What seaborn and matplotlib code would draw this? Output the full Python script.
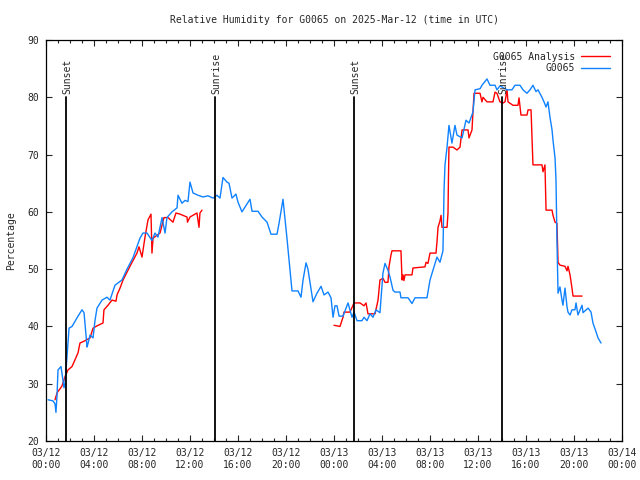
import numpy as np
import pandas as pd
import seaborn as sns
import matplotlib
matplotlib.use("Agg")
import matplotlib.pyplot as plt
from matplotlib.lines import Line2D

# hours since 2025-03-12 00:00 UTC
obs_hours = [0.17, 0.58, 0.75, 0.83, 0.92, 1.0, 1.25, 1.5, 1.58, 1.75, 1.92, 2.17, 2.67, 3.0, 3.17,
             3.42, 3.5, 3.67, 3.92, 4.08, 4.25, 4.67, 5.08, 5.33, 5.75, 6.33, 6.75, 7.25, 7.83, 8.08,
             8.42, 8.83, 9.08, 9.33, 9.67, 9.92, 10.08, 10.5, 10.92, 11.0, 11.33, 11.58, 11.83, 12.0,
             12.25, 12.67, 13.08, 13.5, 13.92, 14.25, 14.5, 14.75, 15.08, 15.25, 15.5, 15.83, 16.0,
             16.33, 17.0, 17.17, 17.67, 18.0, 18.42, 18.75, 19.25, 19.42, 19.75, 20.08, 20.5, 21.0,
             21.25, 21.42, 21.67, 21.83, 22.25, 22.58, 22.92, 23.17, 23.5, 23.75, 23.92, 24.08, 24.25,
             24.42, 24.75, 25.17, 25.5, 25.67, 25.92, 26.33, 26.5, 26.75, 27.0, 27.25, 27.5, 27.83,
             28.08, 28.25, 28.5, 28.67, 28.92, 29.08, 29.5, 29.58, 30.17, 30.5, 30.75, 31.75, 32.0,
             32.25, 32.58, 32.83, 33.08, 33.17, 33.25, 33.42, 33.58, 33.83, 34.08, 34.25, 34.67, 35.0,
             35.25, 35.58, 35.75, 36.17, 36.33, 36.75, 37.0, 37.42, 37.58, 37.83, 38.42, 38.83, 39.08,
             39.5, 39.75, 40.08, 40.33, 40.58, 40.83, 41.0, 41.33, 41.5, 41.67, 41.83, 42.0, 42.17,
             42.25, 42.42, 42.5, 42.58, 42.67, 42.83, 43.0, 43.08, 43.25, 43.42, 43.5, 43.67, 43.83,
             44.08, 44.17, 44.33, 44.67, 44.75, 45.17, 45.42, 45.58, 45.83, 46.0, 46.25]
obs_rh = [27.2, 27.0, 26.5, 25.0, 28.0, 32.4, 33.0, 29.3, 30.0, 34.7, 39.7, 40.0, 41.8, 42.9, 42.4,
          36.4, 37.0, 38.5, 38.0, 41.0, 43.2, 44.6, 45.1, 44.6, 47.2, 48.1, 50.0, 52.0, 55.4, 56.3,
          56.3, 55.0, 56.3, 55.6, 59.0, 56.3, 59.0, 60.0, 60.7, 62.9, 61.5, 62.0, 61.8, 65.2,
          63.3, 62.9, 62.6, 62.8, 62.4, 62.9, 62.4, 66.0, 65.2, 65.0, 62.4, 63.1, 61.7,
          60.0, 62.2, 60.1, 60.1, 59.1, 58.2, 56.1, 56.1, 58.0, 62.2, 55.4, 46.2, 46.2,
          45.1, 48.1, 51.1, 50.0, 44.3, 45.8, 47.0, 45.5, 46.0, 45.0, 41.6, 43.6, 43.6,
          41.8, 41.8, 44.1, 41.6, 42.5, 41.0, 41.0, 41.6, 41.0, 42.2, 41.6, 42.9, 42.4,
          49.3, 51.0, 49.8, 48.6, 46.3, 46.0, 46.0, 45.0, 45.0, 44.0, 45.0, 45.0, 48.1,
          49.8, 52.1, 51.2, 53.2, 63.8, 68.2, 71.3, 75.1, 72.0, 75.1, 73.4, 72.9, 76.0,
          75.5, 77.4, 81.3, 81.5, 82.1, 83.2, 82.1, 82.1, 81.3, 82.0, 81.3, 81.3, 82.1,
          82.1, 81.3, 80.7, 81.3, 82.1, 81.0, 81.3, 80.0, 79.2, 78.3, 79.2, 76.5, 74.3,
          72.5, 69.4, 65.5, 55.0, 45.8, 46.9, 44.6, 43.7, 46.7, 43.4, 42.5, 42.0, 42.9,
          42.9, 44.1, 42.0, 43.7, 42.4, 43.2, 42.5, 40.6, 39.1, 38.0, 37.1]

ana_hours_1 = [0.75, 0.92, 1.33, 1.58, 1.83, 2.17, 2.67, 2.83, 3.25, 3.67, 3.92, 4.25, 4.75, 4.83,
               5.17, 5.5, 5.83, 5.92, 6.17, 6.42, 7.0, 7.58, 7.75, 8.0, 8.25, 8.5, 8.75, 8.83, 8.92,
               9.5, 9.83, 10.17, 10.58, 10.83, 11.17, 11.75, 11.79, 12.0, 12.58, 12.75, 12.83, 13.0]
ana_rh_1 = [27.2, 28.4, 29.6, 31.2, 32.4, 33.0, 35.4, 37.1, 37.5, 38.0, 39.7, 40.1, 40.6, 42.9,
            43.7, 44.6, 44.4, 45.5, 46.7, 48.1, 50.5, 52.8, 53.9, 52.1, 55.6, 58.6, 59.6, 52.8, 55.4,
            56.3, 59.0, 59.0, 58.2, 59.8, 59.6, 59.1, 58.2, 59.1, 59.8, 57.3, 59.8, 60.3]
ana_hours_2 = [24.0, 24.5, 24.75, 24.83, 25.33, 25.67, 26.17, 26.5, 26.67, 26.83, 27.42, 27.67, 27.83,
               28.08, 28.25, 28.5, 28.58, 28.75, 28.83, 29.58, 29.67, 29.75, 29.83, 29.92, 30.5,
               30.58, 31.58, 31.67, 31.83, 32.0, 32.5, 32.58, 32.67, 32.83, 32.92, 33.0, 33.42,
               33.5, 33.54, 33.58, 33.92, 34.25, 34.5, 34.67, 35.17, 35.25, 35.5, 35.58, 35.67,
               36.17, 36.33, 36.42, 36.75, 37.25, 37.42, 37.58, 37.83, 38.08, 38.25, 38.42, 38.5,
               38.92, 39.33, 39.42, 39.58, 40.08, 40.17, 40.42, 40.58, 41.33, 41.42, 41.58, 41.67,
               42.17, 42.25, 42.42, 42.58, 42.67, 42.83, 43.25, 43.42, 43.5, 43.67, 43.83, 43.92, 44.67]
ana_rh_2 = [40.2, 40.0, 41.6, 42.5, 42.5, 44.1, 44.1, 43.6, 44.1, 42.2, 42.2, 44.6, 48.1,
            48.4, 47.7, 47.7, 50.4, 52.5, 53.2, 53.2, 48.1, 49.0, 48.0, 49.0, 49.0,
            50.2, 50.4, 51.2, 51.0, 52.8, 52.8, 54.7, 57.3, 58.4, 59.4, 57.3, 57.3,
            59.8, 66.1, 71.3, 71.3, 70.8, 71.3, 74.3, 74.3, 72.9, 74.3, 77.4, 80.7,
            80.7, 79.2, 80.0, 79.2, 79.2, 80.9, 80.7, 79.2, 79.0, 79.2, 81.3, 79.2,
            78.6, 78.6, 79.9, 76.9, 76.9, 77.8, 77.8, 68.2, 68.2, 67.0, 68.2, 60.3,
            60.3, 59.4, 58.2, 58.0, 51.2, 50.7, 50.5, 49.7, 50.5, 49.0, 46.7, 45.3, 45.3]

sun_hours = [1.67, 14.08, 25.67, 38.0]
sun_labels = ["Sunset", "Sunrise", "Sunset", "Sunrise"]
tick_labels = ["03/12\n00:00", "03/12\n04:00", "03/12\n08:00", "03/12\n12:00", "03/12\n16:00",
               "03/12\n20:00", "03/13\n00:00", "03/13\n04:00", "03/13\n08:00", "03/13\n12:00",
               "03/13\n16:00", "03/13\n20:00", "03/14\n00:00"]

sns.set_style("ticks")
plt.rcParams["font.family"] = ["DejaVu Sans Mono"]
plt.rcParams["font.size"] = 7

RED = "#ff0000"
BLUE = "#0f82ff"

fig = plt.figure(figsize=(6.4, 4.8), dpi=100)
ax = fig.add_axes([46 / 640, 1 - 441 / 480, 576 / 640, 401 / 480])

obs = pd.DataFrame({"hour": obs_hours, "rh": obs_rh})
ana1 = pd.DataFrame({"hour": ana_hours_1, "rh": ana_rh_1})
ana2 = pd.DataFrame({"hour": ana_hours_2, "rh": ana_rh_2})

sns.lineplot(data=ana1, x="hour", y="rh", color=RED, lw=1.0, estimator=None, ax=ax)
sns.lineplot(data=ana2, x="hour", y="rh", color=RED, lw=1.0, estimator=None, ax=ax)
sns.lineplot(data=obs, x="hour", y="rh", color=BLUE, lw=1.0, estimator=None, ax=ax)

for h, lab in zip(sun_hours, sun_labels):
    ax.plot([h, h], [20, 80], color="black", lw=1.3)
    ax.text(h + 0.1, 80.6, lab, rotation=90, ha="center", va="bottom", fontsize=7)

ax.set_xlim(0, 48)
ax.set_ylim(20, 90)
ax.set_xticks(np.arange(0, 49, 4))
ax.set_xticklabels(tick_labels)
ax.set_xticks(np.arange(0, 49, 1), minor=True)
ax.set_yticks(np.arange(20, 91, 10))
ax.tick_params(axis="both", which="major", direction="in", length=4, width=0.8,
               top=True, right=True, labelsize=7, pad=5)
ax.tick_params(axis="x", which="minor", direction="in", length=2, width=0.8, top=True)
for s in ax.spines.values():
    s.set_linewidth(0.9)
    s.set_color("black")

ax.set_xlabel("")
ax.set_ylabel("Percentage", fontsize=7, labelpad=8)
ax.set_title("Relative Humidity for G0065 on 2025-Mar-12 (time in UTC)", fontsize=7, pad=12)

handles = [Line2D([], [], color=RED, lw=1.0), Line2D([], [], color=BLUE, lw=1.0)]
ax.legend(handles, ["G0065 Analysis", "G0065"], loc="upper right", frameon=False,
          markerfirst=False, fontsize=7, handlelength=3.0, handletextpad=0.6,
          borderaxespad=0.8, labelspacing=0.15)

fig.savefig("out.png", dpi=100)
